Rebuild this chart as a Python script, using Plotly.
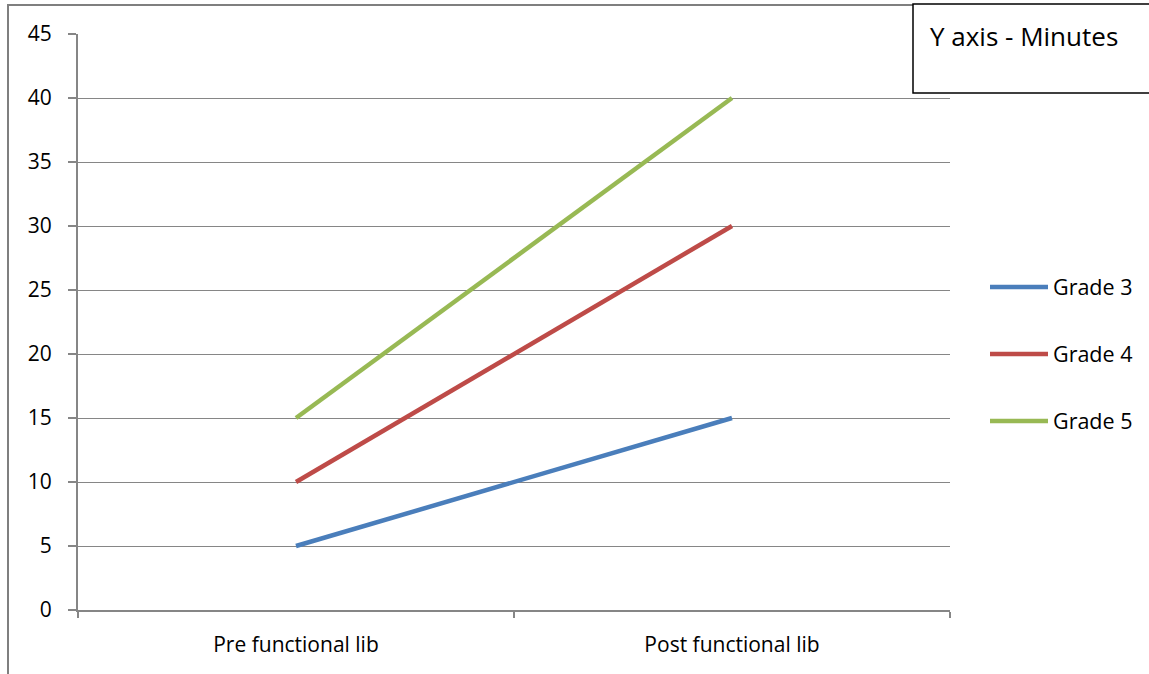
import plotly.graph_objects as go

categories = ["Pre functional lib", "Post functional lib"]
grade3 = [5, 15]
grade4 = [10, 30]
grade5 = [15, 40]
series_names = ["Grade 3", "Grade 4", "Grade 5"]
series_colors = ["#4A7EBB", "#BE4B48", "#98B954"]
y_ticks = [0, 5, 10, 15, 20, 25, 30, 35, 40, 45]

W, H = 1149, 674
L, R, T, B = 78, 950, 34, 610
pw, ph = R - L, B - T

def px(x):
    return (x - L) / pw

def py(y):
    return (B - y) / ph

FONT = "Open Sans"
fig = go.Figure()
for i, (name, vals, col) in enumerate(zip(series_names, [grade3, grade4, grade5], series_colors)):
    fig.add_trace(go.Scatter(x=categories, y=vals, mode="lines", name=name,
                             line=dict(color=col, width=4.5), legendgroup=name))

grid = "#868686"
fig.update_layout(
    width=W, height=H,
    margin=dict(l=L, r=W - R, t=T, b=H - B, autoexpand=False),
    paper_bgcolor="white", plot_bgcolor="white",
    font=dict(family=FONT, size=21, color="black"),
    showlegend=True,
    legend=dict(x=px(985), y=py(354), xanchor="left", yanchor="middle",
                font=dict(size=21.5), tracegroupgap=36, itemwidth=58,
                bgcolor="rgba(0,0,0,0)"),
    xaxis=dict(type="category", range=[-0.5, 1.5], showgrid=False,
               showline=True, linecolor=grid, linewidth=2,
               ticks="outside", tickson="boundaries", ticklen=6, tickcolor=grid, tickwidth=2,
               ticklabelstandoff=15),
    yaxis=dict(range=[0, 45], tickvals=y_ticks, showgrid=True, gridcolor=grid, gridwidth=1.3,
               showline=True, linecolor=grid, linewidth=2, zeroline=False,
               ticks="outside", ticklen=8, tickcolor=grid, tickwidth=2,
               ticklabelstandoff=12),
)

# outer frame
fig.add_shape(type="rect", xref="paper", yref="paper",
              x0=px(8), x1=px(1200), y0=py(720), y1=py(5),
              line=dict(color="#7F7F7F", width=2), fillcolor="rgba(0,0,0,0)", layer="below")
# text box
fig.add_shape(type="rect", xref="paper", yref="paper",
              x0=px(913), x1=px(1200), y0=py(93), y1=py(4),
              line=dict(color="black", width=1.5), fillcolor="white", layer="above")
fig.add_annotation(xref="paper", yref="paper", x=px(928), y=py(36),
                   xanchor="left", yanchor="middle", showarrow=False,
                   text="Y axis - Minutes", font=dict(size=26, color="black", family=FONT))

fig.write_html("out.html", config={"displayModeBar": False},
               post_script="document.body.style.margin='0';document.body.style.overflow='hidden';")
